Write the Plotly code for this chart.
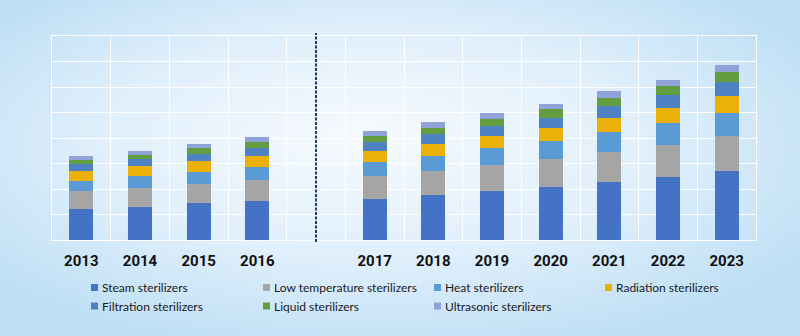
import base64
import plotly.graph_objects as go

years = ["2013", "2014", "2015", "2016", "2017", "2018", "2019", "2020", "2021", "2022", "2023"]
gap_label = " "
category_order = years[:4] + [gap_label] + years[4:]

series_names = [
    "Steam sterilizers", "Low temperature sterilizers", "Heat sterilizers", "Radiation sterilizers",
    "Filtration sterilizers", "Liquid sterilizers", "Ultrasonic sterilizers",
]
steam = [1.23, 1.31, 1.44, 1.54, 1.62, 1.78, 1.93, 2.09, 2.28, 2.48, 2.72]
low_temp = [0.69, 0.74, 0.77, 0.81, 0.89, 0.91, 1.02, 1.08, 1.17, 1.24, 1.36]
heat = [0.38, 0.47, 0.47, 0.52, 0.54, 0.61, 0.65, 0.71, 0.77, 0.88, 0.92]
radiation = [0.40, 0.38, 0.40, 0.43, 0.45, 0.46, 0.47, 0.51, 0.57, 0.57, 0.65]
filtration = [0.27, 0.26, 0.29, 0.29, 0.36, 0.39, 0.41, 0.41, 0.47, 0.50, 0.55]
liquid = [0.18, 0.18, 0.23, 0.26, 0.23, 0.25, 0.27, 0.34, 0.31, 0.37, 0.38]
ultrasonic = [0.14, 0.17, 0.17, 0.17, 0.20, 0.21, 0.22, 0.21, 0.27, 0.25, 0.29]
series_values = [steam, low_temp, heat, radiation, filtration, liquid, ultrasonic]
colors = ["#4472C4", "#A5A5A5", "#5B9BD5", "#ECB108", "#4E82C3", "#629E40", "#8FA3DA"]

fig = go.Figure()
for name, vals, col in zip(series_names, series_values, colors):
    fig.add_trace(go.Bar(name=name, x=years, y=vals, marker=dict(color=col, line=dict(width=0)),
                         width=0.41, showlegend=False))

svg = """<svg xmlns='http://www.w3.org/2000/svg' width='800' height='336' viewBox='0 0 800 336' preserveAspectRatio='none'>
<defs><radialGradient id='g' cx='48%' cy='45%' r='62%' fx='45%' fy='40%'>
<stop offset='0' stop-color='#F6FAFE'/><stop offset='0.55' stop-color='#E0EFFB'/><stop offset='1' stop-color='#BEDFF5'/>
</radialGradient></defs><rect width='800' height='336' fill='url(#g)'/></svg>"""
src = "data:image/svg+xml;base64," + base64.b64encode(svg.encode()).decode()

L, R, T, B = 52, 44, 36, 96
pw, ph = 800 - L - R, 336 - T - B
fig.add_layout_image(dict(source=src, xref="paper", yref="paper", x=-L / pw, y=1 + T / ph,
                          sizex=800 / pw, sizey=336 / ph, xanchor="left", yanchor="top",
                          sizing="stretch", layer="below"))

fig.add_shape(type="line", xref="x", yref="paper", x0=4, x1=4, y0=-0.01, y1=1.015,
              line=dict(color="#1F3A66", width=2, dash="3px,1.5px"))


def px_x(p):
    return (p - L) / pw


def px_y(p):
    return (336 - B - p) / ph


# Legend laid out as a 4-column, 2-row grid under the chart
col_left = [91, 263, 434, 605]
row_mid = [287.5, 306]
for i, (name, col) in enumerate(zip(series_names, colors)):
    r, c = divmod(i, 4)
    x0 = col_left[c]
    yc = row_mid[r]
    fig.add_shape(type="rect", xref="paper", yref="paper",
                  x0=px_x(x0), x1=px_x(x0 + 7), y0=px_y(yc + 3.5), y1=px_y(yc - 3.5),
                  fillcolor=col, line=dict(width=0))
    fig.add_annotation(xref="paper", yref="paper", x=px_x(x0 + 9), y=px_y(yc),
                       xanchor="left", yanchor="middle", showarrow=False, text=name,
                       font=dict(family="Lato, sans-serif", size=12, color="#1a1a1a"))

fig.update_layout(
    width=800, height=336,
    margin=dict(l=L, r=R, t=T, b=B),
    barmode="stack",
    paper_bgcolor="#E4F1FB",
    plot_bgcolor="rgba(0,0,0,0)",
    xaxis=dict(type="category", categoryorder="array", categoryarray=category_order,
               tickson="boundaries", showgrid=True, gridcolor="white", gridwidth=1,
               ticks="", showline=True, linecolor="white", mirror=True,
               tickfont=dict(family="Roboto, sans-serif", size=15, color="#111111", weight="bold"),
               ticklabelstandoff=7, range=[-0.5, 11.5]),
    yaxis=dict(range=[0, 8], dtick=1, showgrid=True, gridcolor="white", gridwidth=1,
               showticklabels=False, zeroline=False, showline=True, linecolor="white", mirror=True),
    showlegend=False,
)
fig.write_html("out.html")
